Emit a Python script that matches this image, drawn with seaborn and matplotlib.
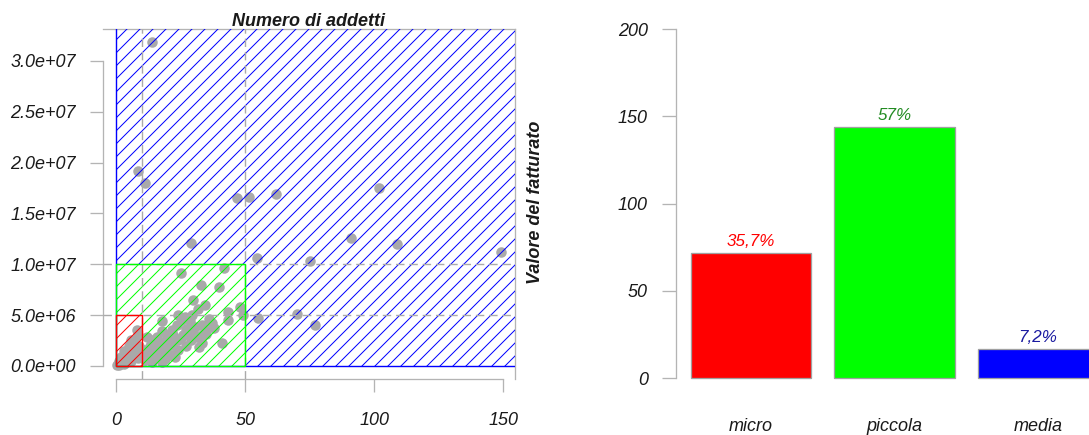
import matplotlib
matplotlib.use('Agg')
import matplotlib.pyplot as plt
from matplotlib.patches import Polygon, Rectangle
import seaborn as sns

# la figura lavora a 78 dpi: cosi il tratteggio ha la stessa fittezza dell'originale
DPI = 78


def px(v):
    # converte pixel in punti
    return v * 72 / DPI


# numero di addetti e fatturato per impresa (letti a occhio dal grafico)
addetti = [
    14, 8.6, 11.2, 47, 51.5, 62, 102, 29, 91, 109, 149, 54.5, 75, 55, 70, 77,
    25, 42, 33, 40, 30, 34.5, 48, 43.5, 49, 26.7, 38, 32, 21,
    2.2, 3.5, 5.4, 7.4, 8.6, 8.0, 4.8, 1.5, 6.7, 8.6, 12.5, 15.1, 17.7, 19.6,
    21.6, 23.5, 25.4, 16.4, 19, 21.6, 24.1, 28, 30.6, 33.2, 34.5, 40.9, 33.2,
    33.2, 21.6, 24.1, 13.8, 17.7, 11.2, 43.5, 28.7, 29.3, 31.9,
    0.5, 1, 3, 4, 6, 2, 5, 7, 9, 10, 11, 13, 14, 16, 18, 20, 22, 26, 27, 29,
    15, 19, 23, 12, 9, 6, 5, 36, 24, 18,
    1, 2.5, 4, 6, 7.5, 3, 12, 14, 17, 20, 22, 25, 27, 30, 31, 35, 37, 16, 13,
]
fatturato = [
    31.9e6, 19.2e6, 18.0e6, 16.5e6, 16.6e6, 16.9e6, 17.5e6, 12.1e6, 12.6e6,
    12.0e6, 11.2e6, 10.6e6, 10.3e6, 4.75e6, 5.1e6, 4.0e6,
    9.1e6, 9.6e6, 8.0e6, 7.8e6, 6.5e6, 6.0e6, 5.8e6, 5.3e6, 5.0e6, 4.85e6,
    3.7e6, 1.9e6, 1.1e6,
    0.59e6, 1.08e6, 1.57e6, 2.23e6, 3.05e6, 3.54e6, 0.75e6, 0.26e6, 1.08e6,
    0.75e6, 1.25e6, 1.74e6, 2.39e6, 3.05e6, 3.54e6, 4.04e6, 4.5e6, 1.08e6,
    1.57e6, 2.07e6, 2.56e6, 3.38e6, 3.87e6, 4.04e6, 3.54e6, 2.23e6, 2.23e6,
    3.05e6, 1.08e6, 1.57e6, 0.43e6, 0.43e6, 0.59e6, 4.5e6, 4.4e6, 5.0e6, 5.6e6,
    0.1e6, 0.1e6, 0.2e6, 0.4e6, 0.5e6, 0.9e6, 1.2e6, 1.6e6, 2.0e6, 1.0e6,
    1.6e6, 2.0e6, 2.6e6, 2.9e6, 3.4e6, 2.5e6, 3.0e6, 3.0e6, 2.0e6, 2.6e6,
    0.8e6, 0.7e6, 0.9e6, 2.9e6, 1.4e6, 2.6e6, 2.0e6, 4.6e6, 5.0e6, 4.4e6,
    0.5e6, 0.3e6, 0.9e6, 1.4e6, 1.9e6, 1.5e6, 1.5e6, 1.3e6, 1.8e6, 2.2e6,
    2.4e6, 2.8e6, 3.6e6, 3.2e6, 2.9e6, 3.1e6, 4.2e6, 2.1e6, 0.9e6,
]

# soglie delle classi dimensionali
soglie_addetti = [10, 50]
soglie_fatturato = [5e6, 1e7]

classi = ['micro', 'piccola', 'media']
conteggi = [72, 144, 17]
percentuali = ['35,7%', '57%', '7,2%']
colori_barre = ['#FF0000', '#00FF00', '#0000FF']
colori_etichette = ['#FF0000', '#228B22', '#1A1AA0']

GRIGIO = '#B4B4B4'
TESTO = '#1A1A1A'
FS = px(18)

sns.set_style('white')
plt.rcParams['font.family'] = ['Liberation Sans', 'DejaVu Sans']
plt.rcParams['hatch.linewidth'] = px(1.0)

fig = plt.figure(figsize=(1089 / DPI, 435 / DPI), dpi=DPI)
ax1 = fig.add_axes([103 / 1089, 56 / 435, 412 / 1089, 350 / 435])
ax2 = fig.add_axes([676 / 1089, 53.2 / 435, 448 / 1089, 352.8 / 435])

# --- grafico a dispersione ---
sns.scatterplot(x=addetti, y=fatturato, ax=ax1, color='#A9A9A9',
                s=px(10.5) ** 2, linewidth=0, zorder=2)

a1, a2 = soglie_addetti
f1, f2 = soglie_fatturato
XB, YB = 1000, 1e9  # la classe "media" si estende oltre i limiti del grafico

reg_blu = Polygon([(0, f2), (0, YB), (XB, YB), (XB, 0), (a2, 0), (a2, f2)],
                  closed=True, facecolor='none', edgecolor='#0000FF',
                  hatch='//', linewidth=0, zorder=3)
reg_verde = Polygon([(0, f1), (0, f2), (a2, f2), (a2, 0), (a1, 0), (a1, f1)],
                    closed=True, facecolor='none', edgecolor='#00FF00',
                    hatch='//', linewidth=0, zorder=3)
reg_rossa = Rectangle((0, 0), a1, f1, facecolor='none', edgecolor='#FF0000',
                      hatch='//', linewidth=0, zorder=3)
for p in (reg_blu, reg_verde, reg_rossa):
    ax1.add_patch(p)

for v in soglie_addetti:
    ax1.axvline(v, color='#AAAAAA', lw=px(1.4), dashes=(6, 3.5), zorder=3.5)
for v in soglie_fatturato:
    ax1.axhline(v, color='#AAAAAA', lw=px(1.4), dashes=(6, 3.5), zorder=3.5)

for (w, h, c) in [(XB, YB, '#0000FF'), (a2, f2, '#00FF00'), (a1, f1, '#FF0000')]:
    ax1.add_patch(Rectangle((0, 0), w, h, facecolor='none', edgecolor=c,
                            linewidth=px(1.4), zorder=4))

ax1.set_xlim(-5.03, 154.5)
ax1.set_ylim(-1.279e6, 3.3146e7)
xt = [0, 50, 100, 150]
yt = [0, 5e6, 1e7, 1.5e7, 2e7, 2.5e7, 3e7]
ax1.set_xticks(xt, [str(v) for v in xt], fontstyle='italic')
ax1.set_yticks(yt, [f'{v:.1e}' for v in yt], fontstyle='italic')
ax1.set_xlabel('')
ax1.set_ylabel('')
for s in ax1.spines.values():
    s.set_color(GRIGIO)
    s.set_linewidth(px(1.3))
ax1.spines['left'].set_bounds(0, 3e7)
ax1.spines['bottom'].set_bounds(0, 150)
ax1.tick_params(axis='both', direction='out', length=px(13), width=px(1.3),
                color=GRIGIO, labelsize=FS, labelcolor=TESTO,
                bottom=True, left=True)
ax1.tick_params(axis='x', pad=px(20))
ax1.tick_params(axis='y', pad=px(14))
ax1.set_title('Numero di addetti', fontsize=FS, fontweight='bold',
              fontstyle='italic', color=TESTO, pad=px(3))
fig.text(536 / 1089, 0.5345, 'Valore del fatturato', rotation=90,
         ha='center', va='center', fontsize=FS, fontweight='bold',
         fontstyle='italic', color=TESTO)

# --- grafico a barre ---
sns.barplot(x=classi, y=conteggi, hue=classi, palette=colori_barre,
            legend=False, saturation=1, width=0.837, edgecolor='#A0A0A0',
            linewidth=px(1.3), ax=ax2)
for i, (n, lab, c) in enumerate(zip(conteggi, percentuali, colori_etichette)):
    ax2.text(i, n + 4, lab, ha='center', va='baseline', color=c,
             fontsize=px(17), fontstyle='italic')

ax2.set_xlim(-0.523, 2.6)
ax2.set_ylim(-2, 200)
ax2.set_yticks([0, 50, 100, 150, 200], ['0', '50', '100', '150', '200'],
               fontstyle='italic')
for lab in ax2.get_xticklabels():
    lab.set_fontstyle('italic')
ax2.set_xlabel('')
ax2.set_ylabel('')
for k in ('top', 'right', 'bottom'):
    ax2.spines[k].set_visible(False)
ax2.spines['left'].set_color(GRIGIO)
ax2.spines['left'].set_linewidth(px(1.3))
ax2.spines['left'].set_bounds(0, 200)
ax2.tick_params(axis='y', direction='out', length=px(14), width=px(1.3),
                color=GRIGIO, labelsize=FS, labelcolor=TESTO, pad=px(14),
                left=True)
ax2.tick_params(axis='x', length=0, labelsize=FS, labelcolor=TESTO,
                pad=px(36))

fig.savefig('out.png', dpi=DPI, facecolor='white')
